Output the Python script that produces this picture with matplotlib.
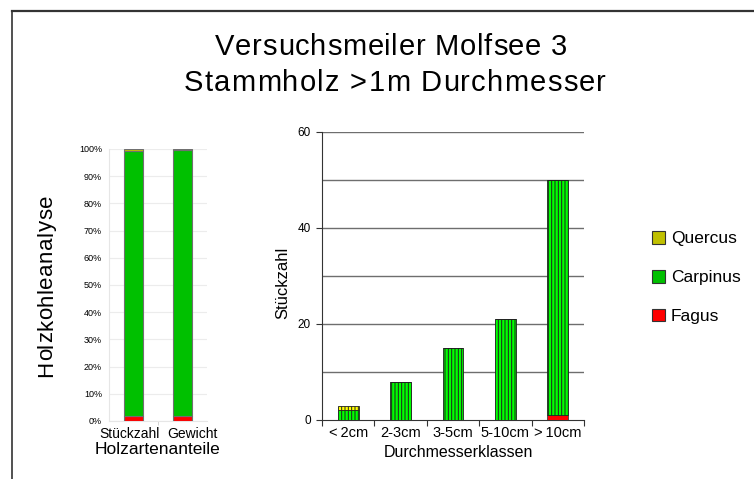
import matplotlib
matplotlib.use("Agg")
import matplotlib.pyplot as plt
from matplotlib.patches import Patch
from matplotlib.lines import Line2D
from matplotlib.font_manager import FontProperties, findfont, get_font
import matplotlib.transforms as mtransforms
import numpy as np

FAMILY = 'Liberation Sans'
plt.rcParams['font.family'] = [FAMILY, 'DejaVu Sans']
plt.rcParams['hatch.linewidth'] = 0.7

# ---- data ----
title_lines = ["Versuchsmeiler Molfsee 3", "Stammholz >1m Durchmesser"]
species = ["Quercus", "Carpinus", "Fagus"]

share_categories = ["Stückzahl", "Gewicht"]
share_fagus = [1.8, 2.0]
share_carpinus = [97.3, 97.6]
share_quercus = [0.9, 0.4]

diam_classes = ["<\u20092cm", "2-3cm", "3-5cm", "5-10cm", ">\u200910cm"]
diam_fagus = [0, 0, 0, 0, 1]
diam_carpinus = [2, 8, 15, 21, 49]
diam_quercus = [1, 0, 0, 0, 0]

pct_ticks = [0, 10, 20, 30, 40, 50, 60, 70, 80, 90, 100]
count_ticks = [0, 20, 40, 60]
count_grid = [10, 20, 30, 40, 50, 60]

# ---- colours ----
c_fagus = "#ff0000"
c_carp_left = "#00c000"
c_quer_left = "#c0c000"
c_carp_right = "#00ff00"
c_quer_right = "#ffff00"

W, H = 754, 479
fig = plt.figure(figsize=(W / 100, H / 100), dpi=100)


def advances_px(s, size_pt):
    font = get_font(findfont(FontProperties(family=FAMILY)))
    font.set_size(size_pt, 100)
    out = []
    for ch in s:
        g = font.load_char(ord(ch))
        out.append(g.linearHoriAdvance / 65536.0)
    return out


def tracked_text(s, cx, cy, size_pt, total_px, rotation=0):
    """Draw letter-spaced text centred at (cx, cy) px (baseline), spanning total_px."""
    adv = advances_px(s, size_pt)
    natural = sum(adv)
    track = (total_px - natural) / max(len(s) - 1, 1)
    pos = -total_px / 2.0
    for ch, a in zip(s, adv):
        c = pos + a / 2.0
        if ch != " ":
            if rotation == 0:
                x, y = cx + c, cy
            else:
                x, y = cx, cy - c
            fig.text(x / W, 1 - y / H, ch, fontsize=size_pt, ha="center", va="baseline",
                     rotation=rotation, rotation_mode="anchor")
        pos += a + track


# frame lines (top and left)
fig.add_artist(Line2D([12 / W, 1.0], [1 - 10.5 / H, 1 - 10.5 / H], color="#333333", lw=1.6,
                      transform=fig.transFigure))
fig.add_artist(Line2D([12 / W, 12 / W], [0, 1 - 10.5 / H], color="#333333", lw=1.2,
                      transform=fig.transFigure))

# title
tracked_text(title_lines[0], 391, 55, 21, 352)
tracked_text(title_lines[1], 395, 91, 21, 422)

# ---- left chart ----
ax1 = fig.add_axes([109 / W, 1 - 421 / H, 98 / W, 272 / H])
x1 = np.arange(len(share_categories))
w1 = 0.4
b = np.zeros(len(x1))
ax1.bar(x1, share_fagus, w1, bottom=b, color=c_fagus, edgecolor="#707070", lw=0.8, zorder=3)
b = b + np.array(share_fagus)
ax1.bar(x1, share_carpinus, w1, bottom=b, color=c_carp_left, edgecolor="#707070", lw=0.8, zorder=3)
b = b + np.array(share_carpinus)
ax1.bar(x1, share_quercus, w1, bottom=b, color=c_quer_left, edgecolor="#707070", lw=0.8, zorder=3)
ax1.set_ylim(0, 100)
ax1.set_xlim(-0.5, 1.5)
ax1.set_yticks(pct_ticks)
ax1.set_yticklabels([f"{t}%" for t in pct_ticks], fontsize=6.5)
ax1.set_xticks(x1)
ax1.set_xticklabels(share_categories, fontsize=10)
ax1.tick_params(axis="x", length=0, pad=4)
ax1.tick_params(axis="y", length=0, pad=5)
# spread category labels slightly as in the original
for lab, dx in zip(ax1.get_xticklabels(), [-4, 10]):
    lab.set_transform(lab.get_transform() + mtransforms.ScaledTranslation(dx / 100, 0, fig.dpi_scale_trans))
ax1.set_xticks([0.5], minor=True)
ax1.tick_params(axis="x", which="minor", length=3, color="#cccccc")
ax1.grid(axis="y", color="#ececec", lw=0.8, zorder=0)
for s in ["top", "right"]:
    ax1.spines[s].set_visible(False)
for s in ["left", "bottom"]:
    ax1.spines[s].set_color("#e6e6e6")
fig.text(157 / W, 1 - 454 / H, "Holzartenanteile", ha="center", va="baseline", fontsize=12.5)
tracked_text("Holzkohleanalyse", 52, 286, 16, 182, rotation=90)

# ---- right chart ----
ax2 = fig.add_axes([322 / W, 1 - 420 / H, 262 / W, 288 / H])
x2 = np.arange(len(diam_classes))
w2 = 0.4
b = np.zeros(len(x2))
ax2.bar(x2, diam_fagus, w2, bottom=b, color=c_fagus, edgecolor="#404040", lw=0.6, zorder=3)
b = b + np.array(diam_fagus)
ax2.bar(x2, diam_carpinus, w2, bottom=b, color=c_carp_right, edgecolor="#202020", lw=0.6,
        hatch="|||||", zorder=3)
b = b + np.array(diam_carpinus)
ax2.bar(x2, diam_quercus, w2, bottom=b, color=c_quer_right, edgecolor="#202020", lw=0.6,
        hatch="|||||", zorder=3)
ax2.set_ylim(0, 60)
ax2.set_xlim(-0.5, 4.5)
ax2.set_yticks(count_ticks)
ax2.set_yticklabels([str(t) for t in count_ticks], fontsize=8.5)
for g in count_grid:
    ax2.axhline(g, color="#6e6e6e", lw=1.0, zorder=1)
ax2.set_xticks(x2)
ax2.set_xticklabels(diam_classes, fontsize=10.5)
ax2.tick_params(axis="x", which="major", length=0, pad=4)
ax2.set_xticks(np.arange(-0.5, 4.6, 1.0), minor=True)
ax2.tick_params(axis="x", which="minor", length=4, color="#333333", width=0.8)
ax2.tick_params(axis="y", length=4, color="#333333", width=0.8, pad=4)
for s in ["top", "right"]:
    ax2.spines[s].set_visible(False)
for s in ["left", "bottom"]:
    ax2.spines[s].set_color("#333333")
fig.text(458 / W, 1 - 457 / H, "Durchmesserklassen", ha="center", va="baseline", fontsize=11.5)
fig.text(287 / W, 1 - 283 / H, "Stückzahl", ha="center", va="baseline", fontsize=12,
         rotation=90, rotation_mode="anchor")

# ---- legend ----
handles = [Patch(facecolor=c_quer_left, edgecolor="#333333", lw=0.8),
           Patch(facecolor=c_carp_left, edgecolor="#333333", lw=0.8),
           Patch(facecolor=c_fagus, edgecolor="#333333", lw=0.8)]
fig.legend(handles, species, loc="upper left", bbox_to_anchor=(652 / W, 1 - 231 / H),
           frameon=False, fontsize=12.5, handlelength=0.75, handleheight=0.75,
           handletextpad=0.35, labelspacing=1.35, borderaxespad=0, borderpad=0)

fig.savefig("out.png", dpi=100)
